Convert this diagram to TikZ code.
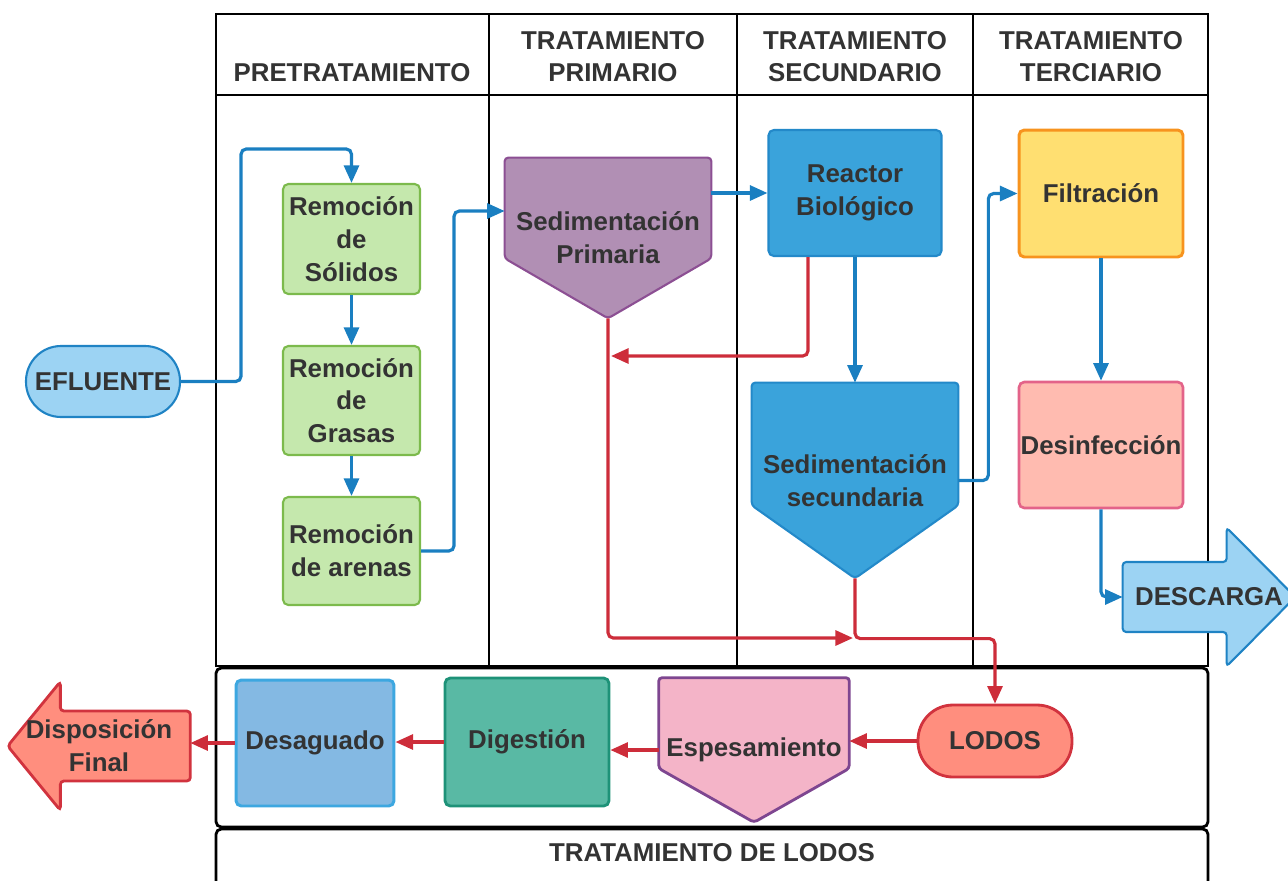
\documentclass[tikz,border=0pt]{standalone}
\usepackage{fontspec}
\setmainfont{Liberation Sans}
\usetikzlibrary{arrows.meta, backgrounds}

\definecolor{txt}{HTML}{333333}
\definecolor{flowblue}{HTML}{1A7FC1}
\definecolor{sludgered}{HTML}{CD2D3A}
\definecolor{greenfill}{HTML}{C5E8AD}
\definecolor{greenline}{HTML}{7CBA4C}
\definecolor{primfill}{HTML}{B18FB4}
\definecolor{primline}{HTML}{8C4F93}
\definecolor{reacfill}{HTML}{3AA3DB}
\definecolor{reacline}{HTML}{2389C9}
\definecolor{filtfill}{HTML}{FFDF71}
\definecolor{filtline}{HTML}{F7931E}
\definecolor{desfill}{HTML}{FFBBB0}
\definecolor{desline}{HTML}{E36389}
\definecolor{skyfill}{HTML}{9CD3F3}
\definecolor{skyline}{HTML}{1F83C4}
\definecolor{lodofill}{HTML}{FF8E7E}
\definecolor{lodoline}{HTML}{D1333E}
\definecolor{espfill}{HTML}{F4B4C8}
\definecolor{espline}{HTML}{7E4690}
\definecolor{digfill}{HTML}{59B9A4}
\definecolor{digline}{HTML}{1E9278}
\definecolor{dsgfill}{HTML}{84B9E3}
\definecolor{dsgline}{HTML}{3DA7E0}

\begin{document}
\begin{tikzpicture}[x=0.02cm, y=-0.02cm,
  box/.style={rectangle, draw, rounded corners=3pt, line width=1.2pt, align=center, text=txt, font=\bfseries\fontsize{14.7}{18.7}\selectfont},
  pill/.style={box, rounded corners=0.7cm},
  bound/.style={rectangle, inner sep=0pt, align=center, text=txt, font=\bfseries\fontsize{14.7}{18.7}\selectfont},
  outline/.style={line width=1.2pt, rounded corners=2pt},
  frame/.style={line width=1.6pt, black},
  lane/.style={align=center, text=txt, font=\bfseries\fontsize{14.7}{18.2}\selectfont},
  flow/.style={-{Triangle[length=10pt, width=8.5pt]}, line width=1.8pt, color=flowblue, rounded corners=3pt},
  sludge/.style={flow, color=sludgered}
]
  \useasboundingbox (0,0) rectangle (1288,880);

  % Swimlanes
  \begin{scope}[on background layer]
    \draw[frame] (216,14) rectangle (1208,666);
    \draw[frame] (216,95) -- (1208,95);
    \foreach \x in {489,737,973}
      \draw[frame] (\x,14) -- (\x,666);
    \draw[frame, rounded corners=3pt] (216,668) rectangle (1208,827);
    \draw[frame, rounded corners=3pt] (216,829) rectangle (1208,895);
  \end{scope}

  % Lane titles
  \node[lane] (pre) at (352,73) {PRETRATAMIENTO};
  \node[lane] (prim) at (613,57) {TRATAMIENTO\\PRIMARIO};
  \node[lane] (sec) at (855,57) {TRATAMIENTO\\SECUNDARIO};
  \node[lane] (ter) at (1091,57) {TRATAMIENTO\\TERCIARIO};
  \node[lane] (lod) at (712,853) {TRATAMIENTO DE LODOS};

  % Water line
  \node[pill, fill=skyfill, draw=skyline, minimum width=3.08cm, minimum height=1.42cm] (efluente) at (103,381.5) {EFLUENTE};
  \node[box, fill=greenfill, draw=greenline, minimum width=2.74cm, minimum height=2.2cm] (solidos) at (351.5,239) {Remoción\\de\\Sólidos};
  \node[box, fill=greenfill, draw=greenline, minimum width=2.74cm, minimum height=2.18cm] (grasas) at (351.5,400.5) {Remoción\\de\\Grasas};
  \node[box, fill=greenfill, draw=greenline, minimum width=2.74cm, minimum height=2.16cm] (arenas) at (351.5,551) {Remoción\\de arenas};
  \node[bound, minimum width=4.12cm, minimum height=3.2cm] (sedprim) at (608,238) {Sedimentación\\Primaria};
  \node[box, fill=reacfill, draw=reacline, minimum width=3.46cm, minimum height=2.52cm] (reactor) at (855,193) {Reactor\\Biológico};
  \node[bound, minimum width=4.12cm, minimum height=3.9cm] (sedsec) at (855,480.5) {Sedimentación\\secundaria};
  \node[box, fill=filtfill, draw=filtline, line width=1.7pt, minimum width=3.28cm, minimum height=2.54cm] (filtracion) at (1101,193.5) {Filtración};
  \node[box, fill=desfill, draw=desline, line width=1.5pt, inner xsep=0pt, minimum width=3.28cm, minimum height=2.52cm] (desinfeccion) at (1101,445) {Desinfección};
  \node[bound, minimum width=3.44cm, minimum height=2.76cm] (descarga) at (1209,597) {DESCARGA};

  % Sludge line
  \node[pill, fill=lodofill, draw=lodoline, line width=1.6pt, minimum width=3.08cm, minimum height=1.44cm] (lodos) at (995,741) {LODOS};
  \node[bound, minimum width=3.8cm, minimum height=2.88cm] (espesamiento) at (754,750) {Espesamiento};
  \node[box, fill=digfill, draw=digline, line width=1.6pt, minimum width=3.28cm, minimum height=2.56cm] (digestion) at (527,742) {Digestión};
  \node[box, fill=dsgfill, draw=dsgline, line width=1.7pt, minimum width=3.16cm, minimum height=2.52cm] (desaguado) at (315,743) {Desaguado};
  \node[bound, minimum width=3.64cm, minimum height=2.56cm] (disposicion) at (99,746) {Disposición\\Final};

  % Pentagons and arrows behind their texts
  \begin{scope}[on background layer]
    \draw[outline, fill=primfill, draw=primline] (sedprim.north west) -- (sedprim.north east) -- ([yshift=1.2cm]sedprim.south east) -- (sedprim.south) -- ([yshift=1.2cm]sedprim.south west) -- cycle;
    \draw[outline, fill=reacfill, draw=reacline] (sedsec.north west) -- (sedsec.north east) -- ([yshift=1.46cm]sedsec.south east) -- (sedsec.south) -- ([yshift=1.46cm]sedsec.south west) -- cycle;
    \draw[outline, fill=espfill, draw=espline, line width=1.6pt] (espesamiento.north west) -- (espesamiento.north east) -- ([yshift=1.08cm]espesamiento.south east) -- (espesamiento.south) -- ([yshift=1.08cm]espesamiento.south west) -- cycle;
    \draw[outline, fill=skyfill, draw=skyline] ([yshift=0.7cm]descarga.west) -- ([xshift=2.08cm, yshift=0.7cm]descarga.west) -- ([xshift=2.08cm]descarga.north west) -- (descarga.east) -- ([xshift=2.08cm]descarga.south west) -- ([xshift=2.08cm, yshift=-0.7cm]descarga.west) -- ([yshift=-0.7cm]descarga.west) -- cycle;
    \draw[outline, fill=lodofill, draw=lodoline, line width=1.6pt] ([yshift=0.7cm]disposicion.east) -- ([xshift=-2.6cm, yshift=0.7cm]disposicion.east) -- ([xshift=-2.6cm]disposicion.north east) -- (disposicion.west) -- ([xshift=-2.6cm]disposicion.south east) -- ([xshift=-2.6cm, yshift=-0.7cm]disposicion.east) -- ([yshift=-0.7cm]disposicion.east) -- cycle;
  \end{scope}

  % Water flow
  \draw[flow] (efluente.east) -- ++(60,0) |- ([yshift=0.68cm]solidos.north) -- (solidos.north);
  \draw[flow] (solidos) -- (grasas);
  \draw[flow] (grasas) -- (arenas);
  \draw[flow] (arenas.east) -- ++(33,0) |- ([yshift=0.54cm]sedprim.west);
  \draw[flow] (sedprim.east |- reactor.west) -- (reactor.west);
  \draw[flow] (reactor) -- (sedsec.north);
  \draw[flow] (sedsec.east) -- ++(30,0) |- (filtracion.west);
  \draw[flow] (filtracion) -- (desinfeccion);
  \draw[flow] (desinfeccion.south) |- (descarga.west);

  % Sludge flow
  \coordinate (retorno) at (611,356);
  \coordinate (purga) at (853,638);
  \draw[sludge] ([xshift=-0.94cm]reactor.south) |- (retorno);
  \draw[sludge] (sedprim.south) |- (purga);
  \draw[sludge] (sedsec.south) |- ([yshift=1.3cm]lodos.north) -- (lodos.north);
  \draw[sludge] (lodos.west) -- (lodos.west -| espesamiento.east);
  \draw[sludge] (espesamiento.west) -- (espesamiento.west -| digestion.east);
  \draw[sludge] (digestion.west) -- (digestion.west -| desaguado.east);
  \draw[sludge] (desaguado.west) -- (desaguado.west -| disposicion.east);
\end{tikzpicture}
\end{document}
